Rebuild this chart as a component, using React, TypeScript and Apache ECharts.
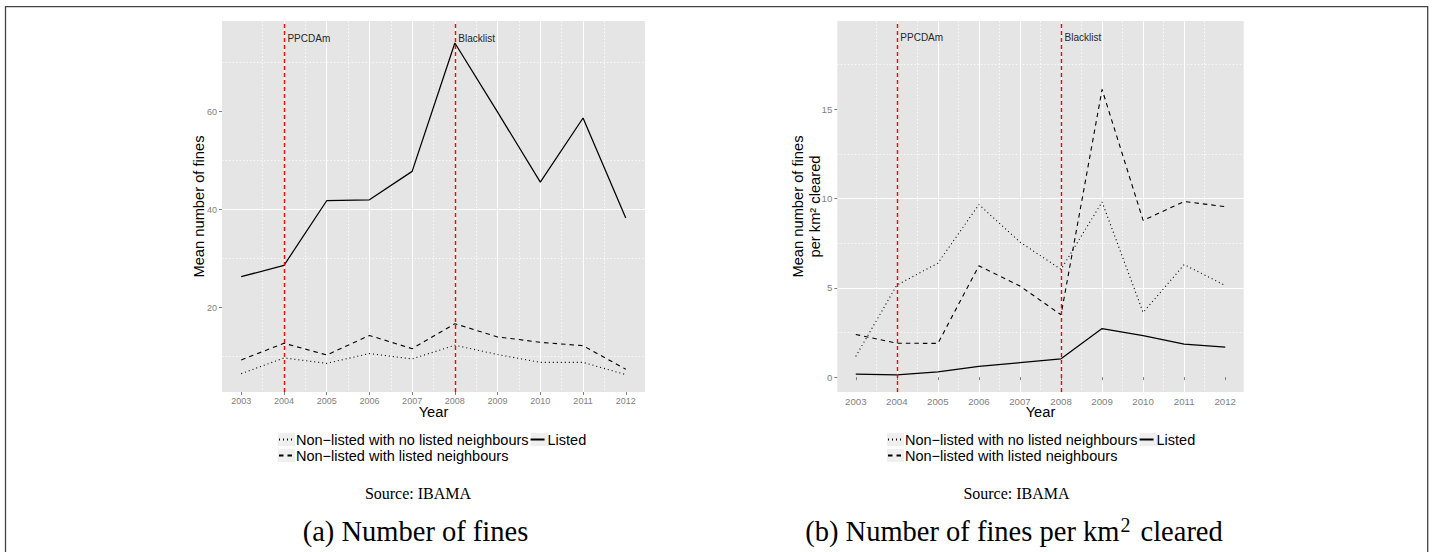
import React, { useEffect, useRef } from "react";
import * as echarts from "echarts";

// ---------- data ----------
const years = [2003, 2004, 2005, 2006, 2007, 2008, 2009, 2010, 2011, 2012];
const seriesNames = [
  "Non\u2212listed with no listed neighbours",
  "Listed",
  "Non\u2212listed with listed neighbours",
];

// (a) Mean number of fines
const finesNoNeighbours = [6.5, 9.7, 8.6, 10.6, 9.5, 12.3, 10.4, 8.8, 8.8, 6.3];
const finesListed = [26.3, 28.6, 41.8, 42.0, 47.8, 74.0, 59.9, 45.6, 58.7, 38.3];
const finesWithNeighbours = [9.3, 12.7, 10.3, 14.3, 11.6, 16.7, 14.0, 12.9, 12.2, 7.4];

// (b) Mean number of fines per km² cleared
const perKmNoNeighbours = [1.16, 5.15, 6.38, 9.66, 7.56, 6.03, 9.8, 3.62, 6.3, 5.13];
const perKmListed = [0.17, 0.13, 0.3, 0.6, 0.81, 1.03, 2.72, 2.33, 1.85, 1.68];
const perKmWithNeighbours = [2.39, 1.9, 1.89, 6.23, 5.1, 3.49, 16.1, 8.77, 9.83, 9.54];

const eventYears = [2004, 2008];
const eventLabels = ["PPCDAm", "Blacklist"];
const eventLabelYA = 75;
const eventLabelYB = 19;

const yTicksA = [20, 40, 60];
const yTicksB = [0, 5, 10, 15];

const sourceText = "Source: IBAMA";
const captionA = "(a) Number of fines";
const captionBMain = "(b) Number of fines per km";
const captionBSup = "2";
const captionBEnd = " cleared";
const yNameA = "Mean number of fines";
const yNameB = "Mean number of fines\nper km\u00b2 cleared";
const xName = "Year";

// ---------- styles ----------
const SANS = "'Liberation Sans', Arial, Helvetica, sans-serif";
const SERIF = "'Liberation Serif', 'Times New Roman', serif";
const GREY = "#7f7f7f";

const lineTypes: any[] = [[1, 3], "solid", [4.5, 4]];
const lineWidths = [1.1, 1.25, 1.1];

function xAxisFor(gridIndex: number, fontSize: number) {
  return {
    type: "value",
    gridIndex,
    min: 2002.55,
    max: 2012.45,
    minInterval: 1,
    maxInterval: 1,
    axisLine: { show: false },
    axisTick: {
      show: true,
      length: 3,
      lineStyle: { color: GREY, width: 1 },
      customValues: years,
    },
    axisLabel: {
      show: true,
      customValues: years,
      formatter: (v: number) => String(v),
      color: GREY,
      fontSize,
      fontFamily: SANS,
      margin: 4,
    },
    splitLine: {
      show: true,
      showMinLine: false,
      showMaxLine: false,
      lineStyle: { color: "#ffffff", width: 1 },
    },
    minorTick: { show: false, splitNumber: 2 },
    minorSplitLine: {
      show: true,
      lineStyle: { color: "#ffffff", width: 0.8, type: [1.5, 2] },
    },
    name: xName,
    nameLocation: "middle",
    nameGap: 12,
    nameMoveOverlap: false,
    nameTextStyle: { color: "#000", fontSize: 14.7, fontFamily: SANS },
  };
}

function yAxisFor(
  gridIndex: number,
  min: number,
  max: number,
  interval: number,
  ticks: number[],
  fontSize: number,
  name: string,
  nameGap: number
) {
  return {
    type: "value",
    gridIndex,
    min,
    max,
    minInterval: interval,
    maxInterval: interval,
    axisLine: { show: false },
    axisTick: {
      show: true,
      length: 3,
      lineStyle: { color: GREY, width: 1 },
      customValues: ticks,
    },
    axisLabel: {
      show: true,
      customValues: ticks,
      formatter: (v: number) => String(v),
      color: GREY,
      fontSize,
      fontFamily: SANS,
      margin: 5,
    },
    splitLine: {
      show: true,
      showMinLine: false,
      showMaxLine: false,
      lineStyle: { color: "#ffffff", width: 1 },
    },
    minorTick: { show: false, splitNumber: 2 },
    minorSplitLine: {
      show: true,
      lineStyle: { color: "#ffffff", width: 0.8, type: [1.5, 2] },
    },
    name,
    nameLocation: "middle",
    nameGap,
    nameMoveOverlap: false,
    nameTextStyle: {
      color: "#000",
      fontSize: 14.7,
      fontFamily: SANS,
      lineHeight: 17,
      align: "center",
    },
  };
}

function seriesFor(idx: number, values: number[][], labelY: number) {
  return values.map((vals, k) => {
    const s: any = {
      type: "line",
      name: seriesNames[k],
      xAxisIndex: idx,
      yAxisIndex: idx,
      data: years.map((y, i) => [y, vals[i]]),
      symbol: "none",
      showSymbol: false,
      lineStyle: { color: "#000", width: lineWidths[k], type: lineTypes[k] },
      itemStyle: { color: "#000" },
      z: 3,
    };
    if (k === 1) {
      s.markLine = {
        silent: true,
        symbol: ["none", "none"],
        lineStyle: { color: "#ff0000", type: [4, 3], width: 1.4, opacity: 1 },
        label: { show: false },
        emphasis: { disabled: true },
        data: eventYears.map((x) => ({ xAxis: x })),
        z: 4,
      };
      s.markPoint = {
        silent: true,
        symbol: "circle",
        symbolSize: 1,
        itemStyle: { color: "rgba(0,0,0,0)" },
        label: {
          show: true,
          position: "right",
          distance: 3,
          formatter: "{b}",
          color: "#262626",
          fontSize: 10,
          fontFamily: SANS,
        },
        data: eventYears.map((x, i) => ({
          coord: [x, labelY],
          name: eventLabels[i],
        })),
      };
    }
    return s;
  });
}

function legendsFor(left: number) {
  const base = {
    orient: "horizontal",
    padding: 0,
    itemWidth: 14,
    itemHeight: 14,
    itemGap: 1,
    selectedMode: false,
    itemStyle: { opacity: 0 },
    textStyle: { color: "#000", fontSize: 14.5, fontFamily: SANS, padding: [0, 0, 0, -2] },
  };
  return [
    { ...base, left, top: 432, data: [seriesNames[0], seriesNames[1]] },
    { ...base, left, top: 448, data: [seriesNames[2]] },
  ];
}

export default function App() {
  const ref = useRef<HTMLDivElement>(null);

  useEffect(() => {
    if (!ref.current) return;
    const chart = echarts.init(ref.current, undefined, { renderer: "svg" });

    const keyBg = (x: number, y: number) => ({
      type: "rect",
      shape: { x, y, width: 17, height: 13 },
      style: { fill: "#efefef" },
      z: 0,
    });

    const option: any = {
      animation: false,
      backgroundColor: "#ffffff",
      grid: [
        {
          left: 222,
          top: 21,
          width: 423,
          height: 371,
          show: true,
          backgroundColor: "#e5e5e5",
          borderWidth: 0,
          outerBoundsMode: "none",
        },
        {
          left: 837.3,
          top: 21,
          width: 406.4,
          height: 371,
          show: true,
          backgroundColor: "#e5e5e5",
          borderWidth: 0,
          outerBoundsMode: "none",
        },
      ],
      xAxis: [xAxisFor(0, 9), xAxisFor(1, 9.7)],
      yAxis: [
        yAxisFor(0, 2.75, 78.5, 20, yTicksA, 9, yNameA, 15),
        yAxisFor(1, -0.83, 19.93, 5, yTicksB, 9.7, yNameB, 14),
      ],
      legend: [...legendsFor(278), ...legendsFor(887)],
      series: [
        ...seriesFor(0, [finesNoNeighbours, finesListed, finesWithNeighbours], eventLabelYA),
        ...seriesFor(1, [perKmNoNeighbours, perKmListed, perKmWithNeighbours], eventLabelYB),
      ],
      graphic: [
        {
          type: "polyline",
          shape: { points: [[5.5, 560], [5.5, 6.7], [1427.7, 6.7], [1427.7, 560]] },
          style: { stroke: "#444", lineWidth: 1.3, fill: null },
          z: 10,
        },
        keyBg(278, 433),
        keyBg(531, 433),
        keyBg(278, 449),
        keyBg(887, 433),
        keyBg(1140, 433),
        keyBg(887, 449),
        {
          type: "text",
          x: 418,
          y: 493,
          style: {
            text: sourceText,
            fill: "#000",
            font: `16px ${SERIF}`,
            align: "center",
            verticalAlign: "middle",
          },
        },
        {
          type: "text",
          x: 1016.5,
          y: 493,
          style: {
            text: sourceText,
            fill: "#000",
            font: `16px ${SERIF}`,
            align: "center",
            verticalAlign: "middle",
          },
        },
        {
          type: "text",
          x: 415.5,
          y: 531,
          style: {
            text: captionA,
            fill: "#000",
            font: `28.5px ${SERIF}`,
            align: "center",
            verticalAlign: "middle",
          },
        },
        {
          type: "text",
          x: 1014,
          y: 531,
          style: {
            text: `{m|${captionBMain}}{s|${captionBSup}}{m|${captionBEnd}}`,
            align: "center",
            verticalAlign: "middle",
            rich: {
              m: { fill: "#000", fontSize: 28.5, fontFamily: SERIF, lineHeight: 32 },
              s: { fill: "#000", fontSize: 20, fontFamily: SERIF, verticalAlign: "top", lineHeight: 20, padding: [0, 3, 0, 1] },
            },
          },
        },
      ],
    };

    chart.setOption(option);
    return () => chart.dispose();
  }, []);

  return (
    <div
      ref={ref}
      style={{ position: "fixed", left: 0, top: 0, width: 1433, height: 552 }}
    />
  );
}
